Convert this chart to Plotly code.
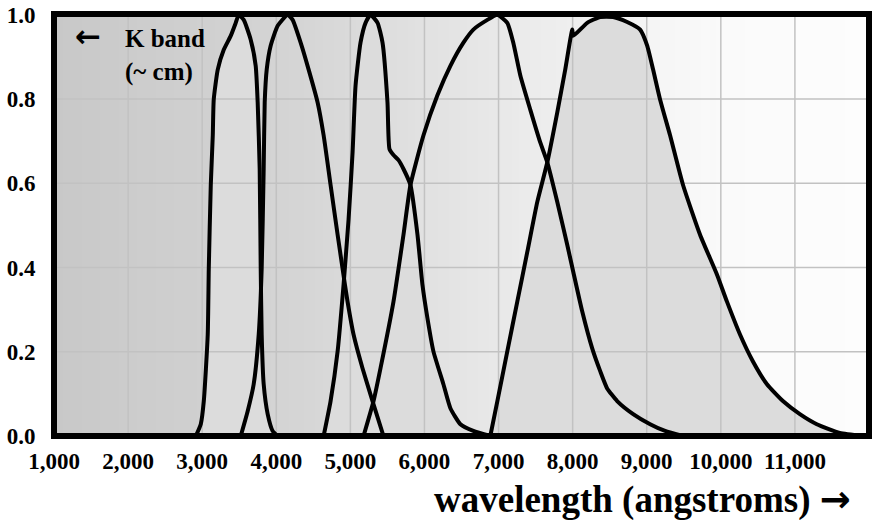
import numpy as np
import plotly.graph_objects as go

# ---------------- data ----------------
U_WL = [2914, 2981, 3022, 3075, 3089, 3116, 3143, 3156, 3210, 3291, 3385, 3453, 3493,
        3561, 3655, 3722, 3749, 3776, 3790, 3803, 3830, 3884, 3951, 4019]
U_T = [0.0, 0.028, 0.083, 0.241, 0.397, 0.596, 0.714, 0.799, 0.870, 0.917, 0.950, 0.981, 1.0,
       0.988, 0.941, 0.879, 0.792, 0.634, 0.397, 0.241, 0.123, 0.052, 0.012, 0.0]

B_WL = [3520, 3614, 3695, 3763, 3803, 3830, 3844, 3871, 3925, 4019, 4154, 4221, 4329,
        4437, 4558, 4639, 4733, 4828, 4895, 4962, 5043, 5164, 5299, 5447]
B_T = [0.0, 0.059, 0.123, 0.241, 0.397, 0.634, 0.792, 0.870, 0.927, 0.974, 1.0, 0.988, 0.934,
       0.870, 0.792, 0.714, 0.596, 0.478, 0.397, 0.319, 0.241, 0.161, 0.083, 0.0]

V_WL = [4639, 4733, 4828, 4908, 4976, 5030, 5070, 5137, 5205, 5272, 5367, 5434, 5501,
        5528, 5582, 5650, 5717, 5811, 5906, 5973, 6041, 6121, 6256, 6350, 6485, 6660, 6889]
V_T = [0.0, 0.083, 0.201, 0.359, 0.515, 0.674, 0.832, 0.934, 0.981, 1.0, 0.981, 0.934, 0.792,
       0.681, 0.667, 0.655, 0.634, 0.596, 0.478, 0.359, 0.279, 0.201, 0.123, 0.066, 0.028, 0.012, 0.0]

R_WL = [5178, 5313, 5407, 5582, 5717, 5811, 5987, 6175, 6350, 6526, 6660, 6849, 6984,
        7118, 7199, 7294, 7428, 7563, 7658, 7792, 7927, 8008, 8129, 8264, 8372, 8466,
        8601, 8817, 9046, 9248, 9490]
R_T = [0.0, 0.083, 0.161, 0.319, 0.478, 0.596, 0.714, 0.809, 0.879, 0.934, 0.965, 0.988, 1.0,
       0.981, 0.934, 0.856, 0.775, 0.697, 0.650, 0.556, 0.454, 0.390, 0.296, 0.208, 0.154, 0.113,
       0.083, 0.052, 0.028, 0.012, 0.0]

I_WL = [6889, 6984, 7118, 7253, 7388, 7523, 7658, 7792, 7900, 7995, 8008, 8197, 8372, 8547,
        8736, 8911, 9006, 9086, 9180, 9315, 9490, 9720, 9949, 10083, 10259, 10434, 10623,
        10838, 11067, 11296, 11606, 11916]
I_T = [0.0, 0.083, 0.201, 0.319, 0.437, 0.556, 0.650, 0.768, 0.870, 0.965, 0.950, 0.981, 0.995,
       0.995, 0.983, 0.965, 0.927, 0.870, 0.799, 0.714, 0.596, 0.478, 0.383, 0.319, 0.241, 0.177,
       0.123, 0.083, 0.052, 0.028, 0.007, 0.0]

X_TICKS = [1000, 2000, 3000, 4000, 5000, 6000, 7000, 8000, 9000, 10000, 11000]
X_TICK_LABELS = ["1,000", "2,000", "3,000", "4,000", "5,000", "6,000",
                 "7,000", "8,000", "9,000", "10,000", "11,000"]
Y_TICKS = [0.0, 0.2, 0.4, 0.6, 0.8, 1.0]
Y_TICK_LABELS = ["0.0", "0.2", "0.4", "0.6", "0.8", "1.0"]

X_RANGE = [1000, 12000]
Y_RANGE = [0.0, 1.0]

# background shade stops (wavelength -> gray level)
BG_WL = [1000, 4300, 7500, 10000, 12000]
BG_SHADE = [200, 213, 236, 250, 253]

FILLED = ["U", "V", "I"]

# ---------------- figure ----------------
SERIF = "Liberation Serif"
fig = go.Figure()

bg_x = np.arange(X_RANGE[0], X_RANGE[1] + 1, 50)
cs = [[(w - X_RANGE[0]) / (X_RANGE[1] - X_RANGE[0]), f"rgb({s},{s},{s})"] for w, s in zip(BG_WL, BG_SHADE)]
fig.add_trace(go.Heatmap(x=bg_x, y=Y_RANGE, z=[bg_x, bg_x], colorscale=cs,
                         zmin=X_RANGE[0], zmax=X_RANGE[1], showscale=False, hoverinfo="skip"))

curves = {"U": (U_WL, U_T), "B": (B_WL, B_T), "V": (V_WL, V_T), "R": (R_WL, R_T), "I": (I_WL, I_T)}

for name in FILLED:
    wl, t = curves[name]
    fig.add_trace(go.Scatter(x=wl, y=t, mode="lines", fill="tozeroy", fillcolor="#dcdcdc",
                             line=dict(width=0, shape="spline", smoothing=0.5), hoverinfo="skip",
                             showlegend=False))

# grid lines (drawn above fills, below curves)
gx, gy = [], []
for v in X_TICKS[1:]:
    gx += [v, v, None]
    gy += [Y_RANGE[0], Y_RANGE[1], None]
for v in Y_TICKS[1:-1]:
    gx += [X_RANGE[0], X_RANGE[1], None]
    gy += [v, v, None]
fig.add_trace(go.Scatter(x=gx, y=gy, mode="lines", line=dict(color="#c2c2c2", width=1.5),
                         hoverinfo="skip", showlegend=False))

for name, (wl, t) in curves.items():
    fig.add_trace(go.Scatter(x=wl, y=t, mode="lines", name=name,
                             line=dict(color="black", width=4, shape="spline", smoothing=0.5),
                             showlegend=False))

L, R, T, B = 54, 3, 11, 84
W, H = 872, 520
pw, ph = W - L - R, H - T - B


def px(xp):
    return (xp - L) / pw


def py(yp):
    return (H - B - yp) / ph


fig.add_shape(type="rect", xref="paper", yref="paper", x0=0, x1=1, y0=0, y1=1,
              line=dict(color="black", width=6), layer="above")

fig.add_annotation(text="←", xref="paper", yref="paper", x=px(88), y=py(33),
                   xanchor="center", yanchor="middle", showarrow=False,
                   font=dict(family="DejaVu Sans", size=31, color="black", weight="bold"))
fig.add_annotation(text="K band<br>(~ cm)", xref="paper", yref="paper", x=px(123), y=py(20),
                   xanchor="left", yanchor="top", align="left", showarrow=False,
                   font=dict(family=SERIF, size=25, color="black", weight="bold"))
fig.add_annotation(text="wavelength (angstroms) <span style=\"font-family:'DejaVu Sans'\">→</span>",
                   xref="paper", yref="paper", x=px(853), y=py(500),
                   xanchor="right", yanchor="middle", showarrow=False,
                   font=dict(family=SERIF, size=37, color="black", weight="bold"))

fig.update_layout(
    width=W, height=H, margin=dict(l=L, r=R, t=T, b=B),
    paper_bgcolor="white", plot_bgcolor="white", showlegend=False,
    xaxis=dict(range=X_RANGE, tickvals=X_TICKS, ticktext=X_TICK_LABELS, showgrid=False,
               zeroline=False, showline=False, ticks="outside", ticklen=4, tickcolor="rgba(0,0,0,0)",
               ticklabeloverflow="allow",
               tickfont=dict(family=SERIF, size=23, color="black", weight="bold")),
    yaxis=dict(range=[Y_RANGE[0], Y_RANGE[1] + 0.002], tickvals=Y_TICKS, ticktext=Y_TICK_LABELS,
               showgrid=False, zeroline=False, showline=False, ticks="outside", ticklen=13,
               tickcolor="rgba(0,0,0,0)", ticklabeloverflow="allow",
               tickfont=dict(family=SERIF, size=23, color="black", weight="bold")),
)

fig.write_html("out.html")
